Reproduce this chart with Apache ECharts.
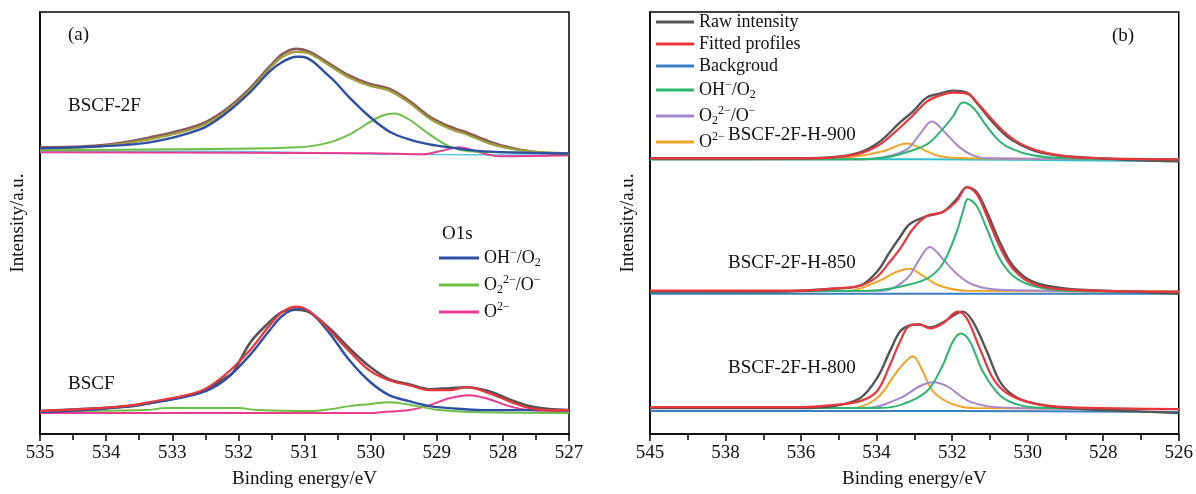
<!DOCTYPE html>
<html><head><meta charset="utf-8">
<script src="https://cdn.jsdelivr.net/npm/echarts@6/dist/echarts.min.js"></script>
<style>html,body{margin:0;padding:0;background:#fff}#c{width:1196px;height:494px}</style>
</head><body><div id="c"></div>
<script>
// ---------- Panel (a): O1s, binding energy (eV) vs intensity (a.u.) ----------
const a2F_raw = [[535,288],[534.09,290],[533.34,298],[532.58,311],[532.21,325],[531.83,347],[531.53,369],[531.33,382],[531.12,387],[530.92,384],[530.62,372],[530.32,360],[530.02,352],[529.72,347],[529.42,335],[529.11,319],[528.81,309],[528.51,302],[528.21,294],[527.91,288],[527.6,284],[527.05,281],[527,281]];
const a2F_fit = [[535,287],[534.09,289],[533.34,296],[532.58,309],[532.21,323],[531.83,345],[531.53,367],[531.33,379],[531.12,384],[530.92,382],[530.62,370],[530.32,358],[530.02,350],[529.72,345],[529.42,333],[529.11,317],[528.81,307],[528.51,300],[528.21,292],[527.91,287],[527.6,284],[527,282]];
const a2F_oh = [[535,287],[534.09,289],[533.34,293],[532.58,306],[532.21,321],[531.83,343],[531.53,364],[531.33,374],[531.12,379],[531.05,379],[530.62,359],[530.32,338],[530.02,319],[529.72,304],[529.42,296],[529.11,291],[528.81,288],[528.3,284],[527,282]];
const a2F_o22 = [[535,285],[533,286],[531.1,288],[530.62,293],[530.32,301],[530.02,313],[529.82,320],[529.64,322],[529.42,316],[529.11,301],[528.81,289],[528.51,284],[528,283],[527,282]];
const a2F_o2 = [[535,283],[530,282],[529.2,281],[528.96,284],[528.66,288],[528.36,283],[528.06,279],[527,280]];
const a2F_bg = [[535,284],[532.5,284],[529.5,281],[527,280]];

const aB_raw = [[535,23],[534.09,26],[533.6,28],[533.34,31],[532.58,42],[532.21,56],[532.09,61],[531.83,91],[531.6,108],[531.33,123],[531.12,125],[530.92,122],[530.62,106],[530.32,86],[530.02,68],[529.72,55],[529.42,50],[529.11,45],[528.81,46],[528.55,47],[528.21,43],[527.91,35],[527.6,28],[527.3,25],[527,24]];
const aB_fit = [[535,23],[534.09,26],[533.6,29],[533.34,32],[532.58,43],[532.21,59],[531.83,84],[531.53,109],[531.33,123],[531.12,128],[530.92,123],[530.62,104],[530.32,83],[530.02,64],[529.72,54],[529.42,49],[529.11,44],[528.81,44],[528.55,47],[528.21,41],[527.91,33],[527.6,26],[527.3,24],[527,24]];
const aB_oh = [[535,22],[534.09,25],[533.34,31],[532.58,41],[532.21,54],[531.83,79],[531.53,104],[531.33,119],[531.1,126],[530.92,123],[530.62,101],[530.32,74],[530.02,53],[529.72,39],[529.42,33],[529.11,28],[528.81,26],[528.3,24],[527,24]];
const aB_o22 = [[535,23],[533.4,24],[533.1,26],[532.0,26],[531.7,24],[530.9,23],[530.6,25],[530.32,28],[530.02,30],[529.72,32],[529.3,28],[528.96,24],[528.5,22],[527,21]];
const aB_o2 = [[535,21],[530,21],[529.82,22],[529.42,24],[529.11,29],[528.81,36],[528.51,39],[528.21,35],[527.91,28],[527.6,24],[527,23]];

// ---------- Panel (b) ----------
const b900_raw = [[540,277],[537,277],[536.03,277],[535.16,278],[534.44,283],[533.91,294],[533.38,313],[533.04,324],[532.67,338],[532.33,342],[531.98,345],[531.61,343],[531.27,329],[530.92,313],[530.55,299],[530.21,291],[529.68,283],[528.97,279],[528.09,277],[527,275],[526,274]];
const b900_fit = [[540,277],[536,277],[535.16,278],[534.44,282],[533.91,291],[533.38,308],[533.04,320],[532.67,334],[532.33,340],[531.98,343],[531.61,342],[531.27,330],[530.92,315],[530.55,301],[530.21,292],[529.68,284],[528.97,279],[528,277],[526,276]];
const b900_bg = [[540,276],[533,276],[526,274]];
const b900_oh = [[540,276],[534.5,276],[533.8,277.5],[533.38,281],[532.67,291],[532.33,303],[531.98,319],[531.72,333],[531.45,328],[531.08,309],[530.74,294],[530.39,286],[529.87,280],[528.97,277],[526,276]];
const b900_o22 = [[540,276],[534.3,276],[533.83,278],[533.2,286],[532.86,301],[532.54,314],[532.14,301],[531.8,288],[531.45,280],[531.08,277],[526,276]];
const b900_o2 = [[540,276],[535.5,276.5],[534.71,278],[533.83,284],[533.2,292],[532.67,284],[532.33,279],[531.61,277],[526,276]];

const b850_raw = [[540,143],[537,143],[536.03,144],[535.16,146],[534.44,149],[533.99,163],[533.65,183],[533.38,198],[533.12,211],[532.67,219],[532.25,223],[531.88,236],[531.61,248],[531.35,243],[531.08,223],[530.74,193],[530.39,169],[529.87,153],[528.97,146],[527.22,143],[526,141]];
const b850_fit = [[540,144],[536,144],[535.16,146],[534.44,149],[533.99,158],[533.65,173],[533.38,186],[533.04,206],[532.67,219],[532.25,223],[531.88,234],[531.61,248],[531.35,241],[531.08,219],[530.74,188],[530.39,166],[529.87,151],[528.97,145],[526,143]];
const b850_bg = [[540,141],[526,141]];
const b850_oh = [[540,143],[534.26,144],[533.38,148],[532.67,156],[532.25,171],[531.88,203],[531.72,223],[531.58,236],[531.35,229],[531.08,206],[530.74,176],[530.39,159],[529.87,149],[528.97,144],[526,143]];
const b850_o22 = [[540,143],[533.83,144],[533.2,156],[532.86,176],[532.59,188],[532.25,176],[531.88,161],[531.45,150],[530.74,145],[526,143]];
const b850_o2 = [[540,143],[534.71,144],[533.99,153],[533.46,163],[533.12,166],[532.78,159],[532.33,149],[531.61,144],[526,143]];

const b800_raw = [[540,26],[537,26],[536.03,26],[535.16,28],[534.44,36],[533.99,56],[533.65,83],[533.38,103],[533.12,109],[532.86,110],[532.59,107],[532.25,112],[531.88,121],[531.72,123],[531.45,113],[531.08,83],[530.74,53],[530.39,39],[529.87,31],[528.97,26],[527.22,23],[526,21]];
const b800_fit = [[540,27],[536,27],[535.16,29],[534.44,33],[533.99,43],[533.65,69],[533.38,93],[533.12,109],[532.86,110],[532.59,106],[532.25,111],[531.85,123],[531.61,116],[531.27,86],[530.92,56],[530.55,41],[529.87,31],[528.97,27],[526,25]];
const b800_bg = [[540,23],[532,23],[526,22]];
const b800_oh = [[540,26],[534,26],[533.38,29],[532.67,43],[532.25,69],[531.98,93],[531.77,101],[531.53,93],[531.19,63],[530.74,39],[530.21,29],[529.42,26],[526,25]];
const b800_o22 = [[540,26],[534.26,26],[533.38,36],[532.86,48],[532.51,52],[532.14,48],[531.61,34],[531.08,28],[530.29,26],[526,25]];
const b800_o2 = [[540,26],[534.71,26],[533.99,36],[533.46,63],[533.2,74],[533.04,78],[532.78,63],[532.51,43],[532.06,31],[531.45,26],[526,25]];

const bTickLabels = ['526','528','530','532','534','536','538','545'];

const FONT = '"Liberation Serif","Times New Roman",serif';
const chart = echarts.init(document.getElementById('c'), null, {renderer:'canvas'});

function ln(name, data, color, w, idx, z){
  return {type:'line', name, data, xAxisIndex:idx, yAxisIndex:idx, showSymbol:false, symbol:'none',
    smooth:0.35, lineStyle:{color, width:w}, itemStyle:{color}, z:z||2, silent:true};
}
const C = {aBlue:'#2e4fa5', aGreen:'#6cc045', aPink:'#ea3c8e', brown:'#8c5a5a', olive:'#9fa03c', gray:'#555555', red:'#e8363a', cyan:'#5cc6ea',
  bBg:'#3a7ec2', bBg9:'#2bbfd0', bGreen:'#2bb56e', bPurple:'#a787cc', bOrange:'#f0a52a'};

const series = [
  ln('bgA', a2F_bg, C.cyan, 1.5, 0, 1),
  ln('a3', a2F_o2, C.aPink, 2, 0, 2),
  ln('a2', a2F_o22, C.aGreen, 2, 0, 2),
  ln('rawA', a2F_raw, C.brown, 2.6, 0, 3),
  ln('fitA', a2F_fit, C.olive, 2.2, 0, 4),
  ln('a1', a2F_oh, C.aBlue, 2.4, 0, 5),
  ln('a3', aB_o2, C.aPink, 2, 0, 2),
  ln('a2', aB_o22, C.aGreen, 2, 0, 2),
  ln('rawB', aB_raw, C.gray, 2.6, 0, 3),
  ln('a1', aB_oh, C.aBlue, 2.4, 0, 4),
  ln('fitB', aB_fit, C.red, 2.2, 0, 5),

  ln('Backgroud', b850_bg, C.bBg, 2, 1, 1),
  ln('b3', b850_o2, C.bOrange, 2, 1, 2),
  ln('b2', b850_o22, C.bPurple, 2, 1, 2),
  ln('b1', b850_oh, C.bGreen, 2, 1, 2),
  ln('Raw intensity', b850_raw, C.gray, 2.4, 1, 3),
  ln('Fitted profiles', b850_fit, C.red, 2.2, 1, 4),

  ln('Backgroud', b900_bg, C.bBg9, 2, 1, 1),
  ln('b3', b900_o2, C.bOrange, 2, 1, 2),
  ln('b2', b900_o22, C.bPurple, 2, 1, 2),
  ln('b1', b900_oh, C.bGreen, 2, 1, 2),
  ln('Raw intensity', b900_raw, C.gray, 2.4, 1, 3),
  ln('Fitted profiles', b900_fit, C.red, 2.2, 1, 4),

  ln('Backgroud', b800_bg, C.bBg, 2, 1, 1),
  ln('b3', b800_o2, C.bOrange, 2, 1, 2),
  ln('b2', b800_o22, C.bPurple, 2, 1, 2),
  ln('b1', b800_oh, C.bGreen, 2, 1, 2),
  ln('Raw intensity', b800_raw, C.gray, 2.4, 1, 3),
  ln('Fitted profiles', b800_fit, C.red, 2.2, 1, 4)
];

const labelMap = {
  a1:'{n|OH}{sup|−}{n|/O}{sub|2}',
  a2:'{n|O}{sub|2}{sup|2−}{n|/O}{sup|−}',
  a3:'{n|O}{sup|2−}',
  'Raw intensity':'{n|Raw intensity}',
  'Fitted profiles':'{n|Fitted profiles}',
  'Backgroud':'{n|Backgroud}',
  b1:'{n|OH}{sup|−}{n|/O}{sub|2}',
  b2:'{n|O}{sub|2}{sup|2−}{n|/O}{sup|−}',
  b3:'{n|O}{sup|2−}'
};
const rich = {
  n:{fontFamily:FONT, fontSize:18, color:'#111', lineHeight:22},
  sub:{fontFamily:FONT, fontSize:12, color:'#111', lineHeight:12, verticalAlign:'bottom'},
  sup:{fontFamily:FONT, fontSize:12, color:'#111', lineHeight:12, verticalAlign:'top'}
};

function xAx(idx, min, max, interval, fmt){
  return {type:'value', gridIndex:idx, inverse:true, min, max, interval,
    name:'Binding energy/eV', nameLocation:'middle', nameGap:36,
    nameTextStyle:{fontFamily:FONT, fontSize:19, color:'#111'},
    axisLine:{show:true, lineStyle:{color:'#000', width:1.5}},
    axisTick:{show:true, inside:false, length:7, lineStyle:{color:'#000', width:1.5}},
    minorTick:{show:true, splitNumber:2, length:6, lineStyle:{color:'#000', width:1.5}},
    axisLabel:{fontFamily:FONT, fontSize:19, color:'#111', margin:10, formatter:fmt},
    splitLine:{show:false}, minorSplitLine:{show:false}};
}
function yAx(idx){
  return {type:'value', gridIndex:idx, min:0, max:424,
    name:'Intensity/a.u.', nameLocation:'middle', nameGap:12,
    nameTextStyle:{fontFamily:FONT, fontSize:19, color:'#111'},
    axisLine:{show:true, lineStyle:{color:'#000', width:1.5}},
    axisTick:{show:false}, axisLabel:{show:false}, splitLine:{show:false}};
}

const txt = (x, y, t, size) => ({type:'text', x, y, style:{text:t, fontFamily:FONT, fontSize:size||19, fill:'#111', textVerticalAlign:'middle'}, z:10});
const leg = (names, colors) => names.map((n, i) => ({name:n, icon:'rect', itemStyle:{color:colors[i]}}));

chart.setOption({
  animation:false,
  backgroundColor:'#fff',
  grid:[
    {left:40, right:627, top:12, bottom:58, show:true, borderColor:'#000', borderWidth:1.5, backgroundColor:'transparent'},
    {left:650, right:17, top:12, bottom:58, show:true, borderColor:'#000', borderWidth:1.5, backgroundColor:'transparent'}
  ],
  xAxis:[
    xAx(0, 527, 535, 1),
    xAx(1, 526, 540, 2, v => bTickLabels[Math.round((v-526)/2)])
  ],
  yAxis:[yAx(0), yAx(1)],
  legend:[
    {data:leg(['a1','a2','a3'], [C.aBlue, C.aGreen, C.aPink]), orient:'vertical', left:434, top:242, itemWidth:40, itemHeight:3, itemGap:5,
     selectedMode:false, formatter:n => labelMap[n], textStyle:{rich}},
    {data:leg(['Raw intensity','Fitted profiles','Backgroud','b1','b2','b3'], [C.gray, C.red, C.bBg, C.bGreen, C.bPurple, C.bOrange]),
     orient:'vertical', left:651, top:8, itemWidth:38, itemHeight:3, itemGap:4,
     selectedMode:false, formatter:n => labelMap[n], textStyle:{rich}}
  ],
  graphic:[
    txt(68, 35, '(a)'),
    txt(68, 106, 'BSCF-2F'),
    txt(68, 384, 'BSCF'),
    txt(442, 234, 'O1s'),
    txt(1112, 36, '(b)'),
    txt(728, 135, 'BSCF-2F-H-900'),
    txt(728, 263, 'BSCF-2F-H-850'),
    txt(728, 368, 'BSCF-2F-H-800')
  ],
  series
});
</script></body></html>
